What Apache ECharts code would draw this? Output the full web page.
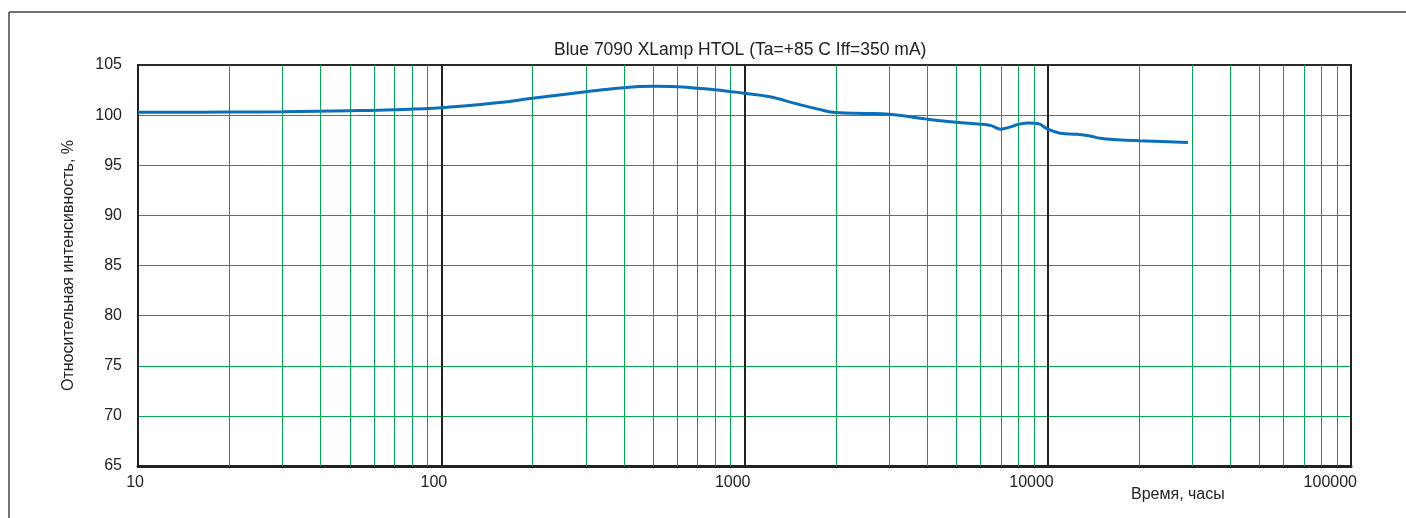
<!DOCTYPE html>
<html>
<head>
<meta charset="utf-8">
<script src="https://cdn.jsdelivr.net/npm/echarts@6/dist/echarts.min.js"></script>
<style>
  html, body { margin: 0; padding: 0; background: #fff; }
  #chart { width: 1406px; height: 518px; }
</style>
</head>
<body>
<div id="chart"></div>
<script>
// ---- Data ----
const titleText = 'Blue 7090 XLamp HTOL (Ta=+85 C Iff=350 mA)';
const yAxisTitle = 'Относительная интенсивность, %';
const xAxisTitle = 'Время, часы';

const hours = [10, 20, 30, 50, 70, 100, 150, 200, 300, 400, 500, 600, 700, 800, 1000,
  1200, 1500, 1750, 2000, 2500, 3000, 4000, 5000, 6000, 6500, 7000, 7500, 8000, 8700,
  9300, 10000, 11000, 12500, 13800, 14900, 17000, 20000, 25000, 29000];
const intensity = [100.28, 100.31, 100.34, 100.44, 100.54, 100.74, 101.2, 101.68, 102.34, 102.74, 102.87, 102.84, 102.67, 102.54, 102.18,
  101.85, 101.1, 100.6, 100.25, 100.17, 100.08, 99.6, 99.28, 99.1, 98.95, 98.6, 98.8, 99.08, 99.22,
  99.15, 98.6, 98.2, 98.09, 97.92, 97.69, 97.55, 97.45, 97.35, 97.28];

const xTickLabels = ['10', '100', '1000', '10000', '100000'];
const decades = [10, 100, 1000, 10000];
const minorMultipliers = [2, 3, 4, 5, 6, 7, 8, 9];

const yMin = 65, yMax = 105, yStep = 5;

// ---- Build ----
const seriesData = hours.map((h, i) => [h, intensity[i]]);
const minorLines = [];
decades.forEach(d => minorMultipliers.forEach(m => minorLines.push({ xAxis: d * m })));

const FONT = 'Liberation Sans, Arial, sans-serif';
const chart = echarts.init(document.getElementById('chart'), null, { renderer: 'canvas' });

chart.setOption({
  animation: false,
  backgroundColor: '#ffffff',
  title: {
    text: titleText,
    left: 549,
    top: 36,
    textStyle: { fontFamily: FONT, fontSize: 17.5, fontWeight: 'normal', color: '#222' }
  },
  grid: {
    left: 138, right: 55, top: 65, bottom: 52,
    show: true, borderColor: '#2a2a2a', borderWidth: 2, backgroundColor: 'transparent'
  },
  xAxis: {
    type: 'log',
    logBase: 10,
    min: 10,
    max: 100000,
    axisLine: { show: true, onZero: false, lineStyle: { color: '#222', width: 3 } },
    axisTick: { show: false },
    axisLabel: {
      margin: 9,
      align: 'right',
      padding: [0, -6, 0, 0],
      fontFamily: FONT, fontSize: 16, color: '#222',
      formatter: (v, i) => xTickLabels[i] !== undefined ? xTickLabels[i] : String(v)
    },
    splitLine: { show: true, lineStyle: { color: '#222', width: 2 } },
    minorTick: { show: false },
    minorSplitLine: { show: false }
  },
  yAxis: {
    type: 'value',
    min: yMin, max: yMax, interval: yStep,
    name: yAxisTitle,
    nameLocation: 'middle',
    nameGap: 61,
    nameTextStyle: { fontFamily: FONT, fontSize: 16, color: '#222' },
    axisLine: { show: true, lineStyle: { color: '#222', width: 2 } },
    axisTick: { show: false },
    axisLabel: { margin: 16, fontFamily: FONT, fontSize: 16, color: '#222' },
    splitLine: { show: true, showMinLine: false, showMaxLine: false, lineStyle: { color: '#00a651', width: 1 } }
  },
  graphic: [
    { type: 'line', shape: { x1: 9, y1: 12, x2: 1406, y2: 12 }, style: { stroke: '#444', lineWidth: 1.5 } },
    { type: 'line', shape: { x1: 9, y1: 12, x2: 9, y2: 518 }, style: { stroke: '#444', lineWidth: 1.5 } },
    { type: 'text', left: 1131, top: 487, style: { text: xAxisTitle, fontFamily: FONT, fontSize: 16, fill: '#222' } }
  ],
  series: [{
    type: 'line',
    data: seriesData,
    smooth: 0.4,
    showSymbol: false,
    symbol: 'none',
    lineStyle: { color: '#0a6fba', width: 3 },
    z: 5,
    markLine: {
      silent: true,
      symbol: 'none',
      label: { show: false },
      lineStyle: { color: '#00a651', width: 1, type: 'solid' },
      z: 1,
      data: minorLines
    }
  }]
});
</script>
</body>
</html>
